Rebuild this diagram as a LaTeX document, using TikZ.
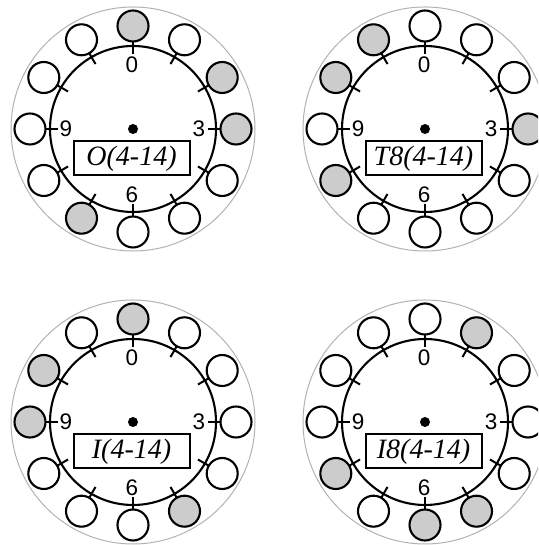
\documentclass[tikz,border=0pt]{standalone}
\usepackage{fontspec}
\setmainfont{Liberation Serif}
\setsansfont{Liberation Sans}
\colorlet{lit}{black!20}
\colorlet{unlit}{white}
\tikzset{
  outerring/.style={draw=black!30, line width=1pt},
  innerring/.style={draw=black, line width=2.1pt},
  position/.style={circle, draw=black, line width=2.1pt, minimum size=31pt, inner sep=0pt},
  tickmark/.style={draw=black, line width=2pt},
  hub/.style={circle, fill=black, minimum size=10pt, inner sep=0pt},
  digit/.style={inner sep=0pt, font=\sffamily\fontsize{22.5}{22.5}\selectfont},
  namebox/.style={draw=black, line width=2pt, minimum width=116pt, minimum height=34pt, inner sep=0pt, font=\itshape\fontsize{28}{28}\selectfont},
}
\newcommand\dialface[5]{%
  \begin{scope}[shift={(#2pt,#3pt)}]
    \draw[outerring] (0,0) circle (122pt);
    \draw[innerring] (0,0) circle (83pt);
    \node[hub] (#1c) at (0,0) {};
    \foreach \f [count=\k from 0] in {#5} {
      \draw[tickmark] ({90-30*\k}:75pt) -- ({90-30*\k}:87pt);
      \node[position, fill=\f] (#1p\k) at ({90-30*\k}:103pt) {};
    }
    \node[digit] (#1n0) at (-1pt,64pt) {0};
    \node[digit] (#1n3) at (66pt,0pt) {3};
    \node[digit] (#1n6) at (-1pt,-66pt) {6};
    \node[digit] (#1n9) at (-67pt,0pt) {9};
    \node[namebox] (#1b) at (-1.5pt,-29.5pt) {#4};
  \end{scope}}
\begin{document}
\begin{tikzpicture}[x=1pt,y=1pt]
  \useasboundingbox (0,0) rectangle (538,545);
  \clip (0,0) rectangle (538,545);
  \dialface{a}{133}{416}{O(4-14)}{lit,unlit,lit,lit,unlit,unlit,unlit,lit,unlit,unlit,unlit,unlit}
  \dialface{b}{425}{416}{T8(4-14)}{unlit,unlit,unlit,lit,unlit,unlit,unlit,unlit,lit,unlit,lit,lit}
  \dialface{c}{133}{123}{I(4-14)}{lit,unlit,unlit,unlit,unlit,lit,unlit,unlit,unlit,lit,lit,unlit}
  \dialface{d}{425}{123}{I8(4-14)}{unlit,lit,unlit,unlit,unlit,lit,lit,unlit,lit,unlit,unlit,unlit}
\end{tikzpicture}
\end{document}
